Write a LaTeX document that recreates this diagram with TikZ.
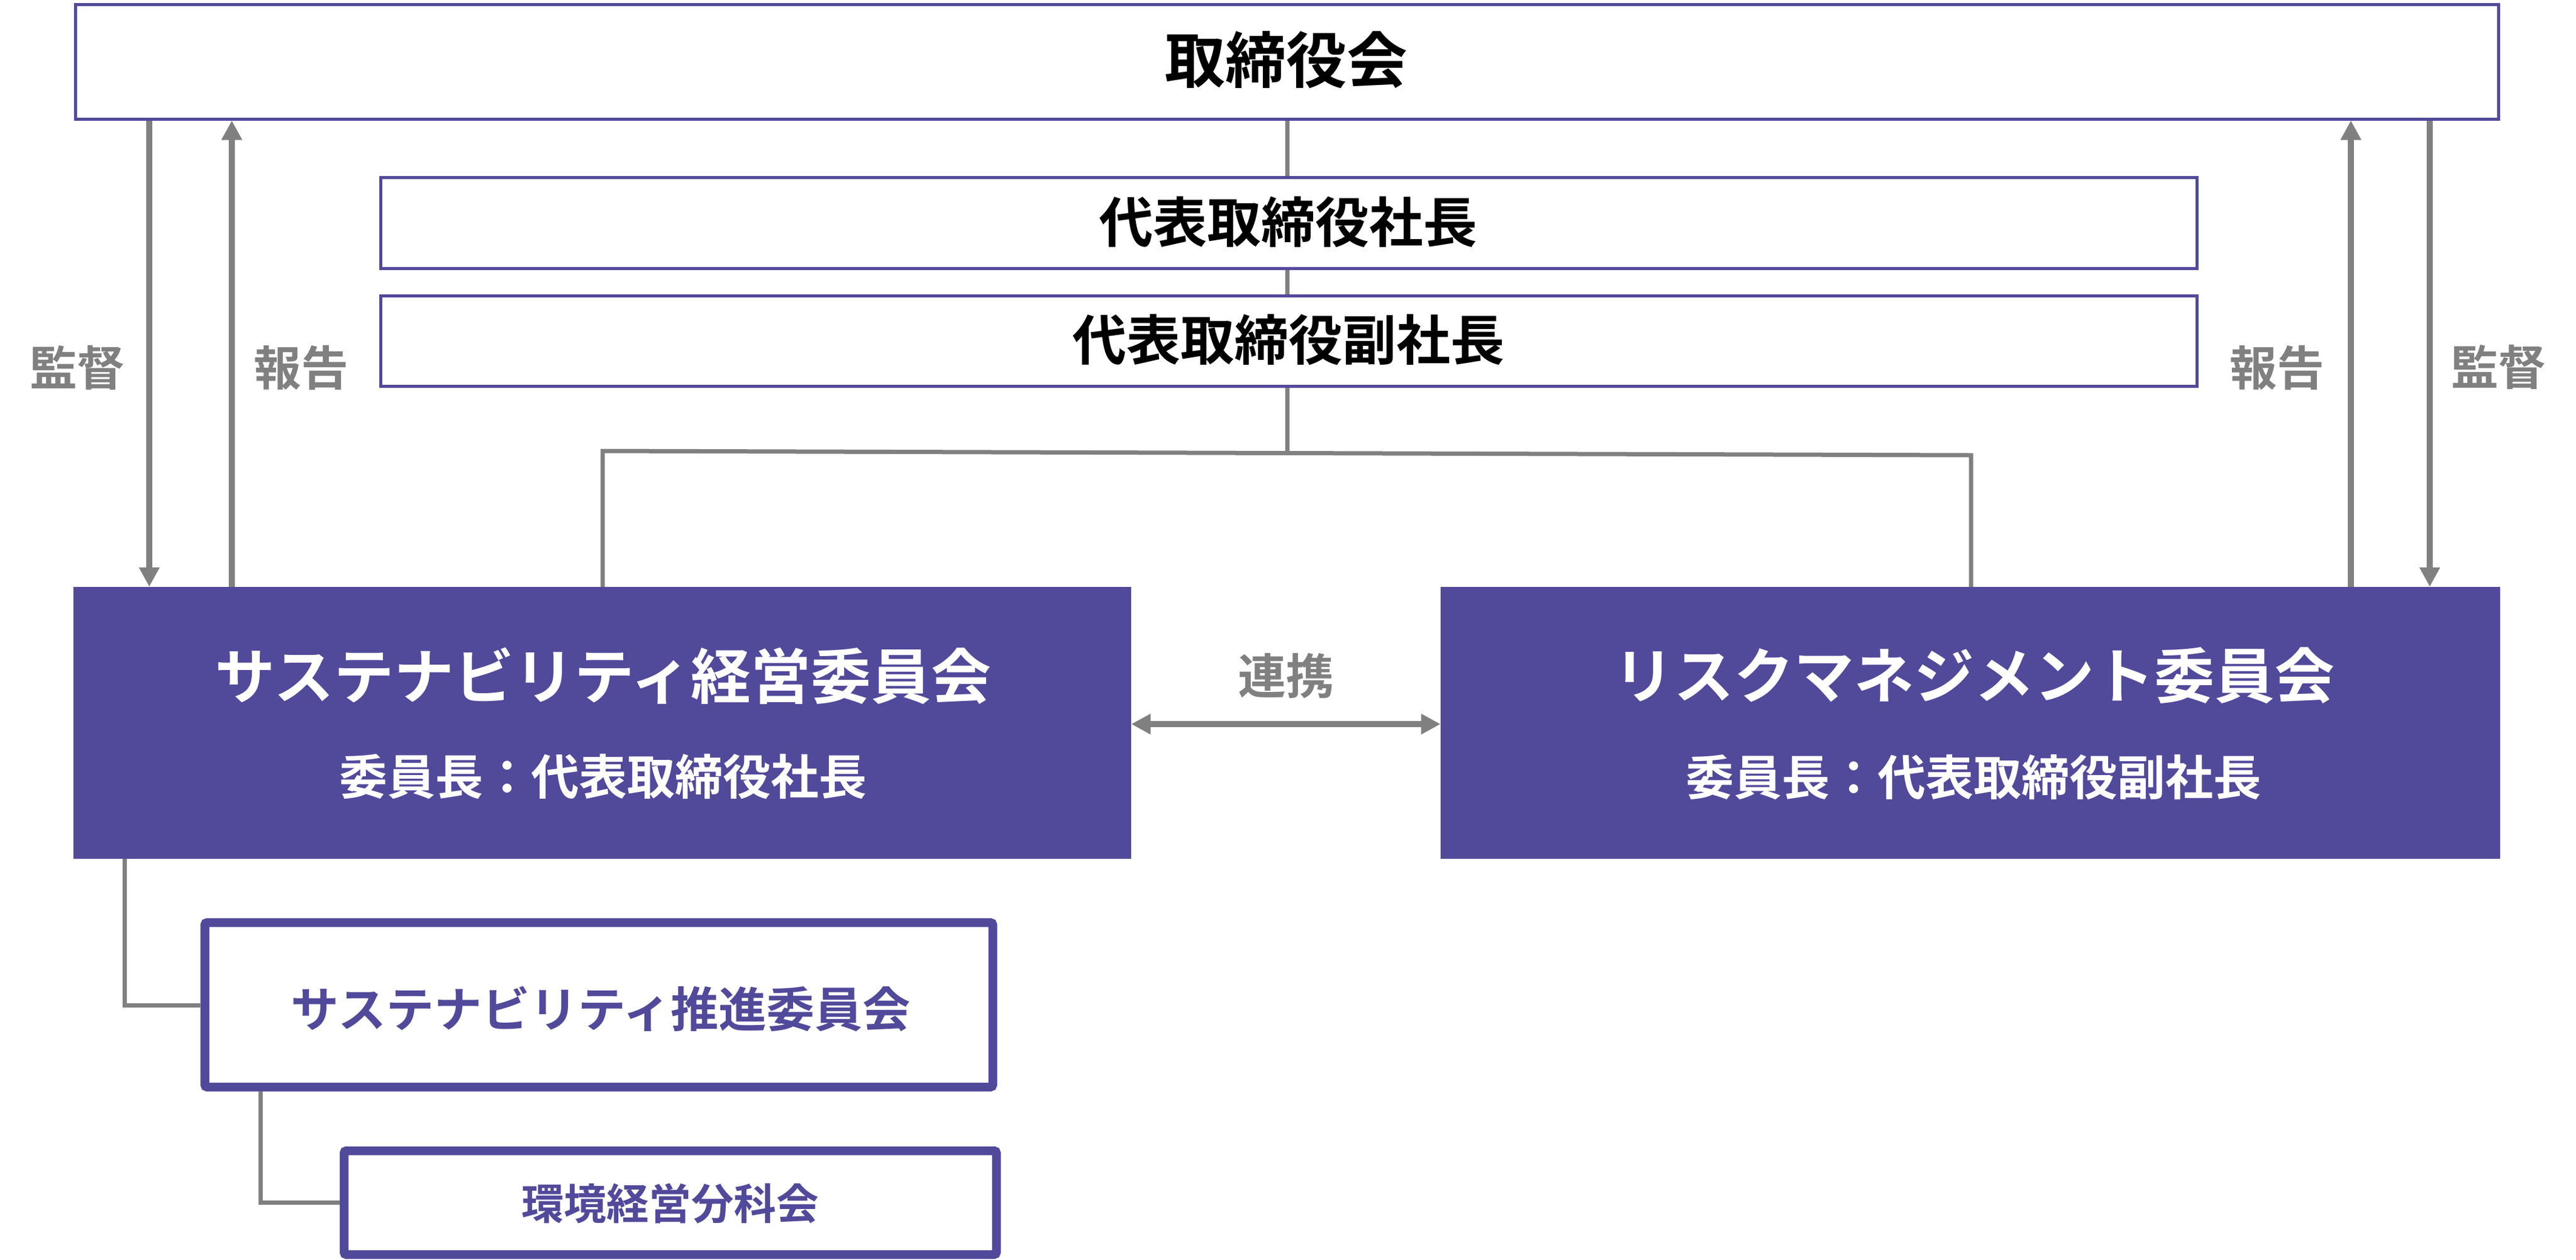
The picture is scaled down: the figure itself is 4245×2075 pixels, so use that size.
\documentclass[tikz,border=0pt]{standalone}
\usepackage{fontspec}
\newfontfamily\jpb{Noto Sans CJK JP Bold}
\usetikzlibrary{arrows.meta}
\definecolor{pur}{RGB}{81,73,154}
\definecolor{gry}{RGB}{128,128,128}
\begin{document}
\begin{tikzpicture}[x=1pt,y=-1pt,
  thinbox/.style={draw=pur,line width=5pt,fill=white,inner sep=0pt},
  fillbox/.style={fill=pur,draw=none,inner sep=0pt},
  thickbox/.style={draw=pur,line width=14.5pt,rounded corners=4pt,fill=white,inner sep=0pt},
  conn/.style={draw=gry,line width=7pt},
  arr/.style={draw=gry,line width=10pt,-{Triangle[length=32pt,width=32pt]}},
  arr2/.style={draw=gry,line width=10pt,{Triangle[length=32pt,width=32pt]}-{Triangle[length=32pt,width=32pt]}},
  txt/.style={inner sep=0pt,font=\jpb\fontsize{#1}{#1}\selectfont},
]
\useasboundingbox (0,0) rectangle (4245,2075);
\fill[white] (0,0) rectangle (4245,2075);

% boxes
\node[thinbox,minimum width=3993pt,minimum height=189pt] (board) at (2120.5,101.5) {};
\node[thinbox,minimum width=2993pt,minimum height=150pt] (pres) at (2124,367.5) {};
\node[thinbox,minimum width=2993pt,minimum height=149pt] (vp) at (2124,561.5) {};
\node[fillbox,minimum width=1743pt,minimum height=448pt] (sus) at (992.5,1191) {};
\node[fillbox,minimum width=1746pt,minimum height=448pt] (risk) at (3247,1191) {};
\node[thickbox,minimum width=1298.5pt,minimum height=271pt] (prom) at (986.75,1655.5) {};
\node[thickbox,minimum width=1075pt,minimum height=171pt] (env) at (1104.5,1981.5) {};

% texts
\node[txt=100] (boardT) at (2119,99) {取締役会};
\node[txt=89] (presT) at (2123,366) {代表取締役社長};
\node[txt=89] (vpT) at (2123,560) {代表取締役副社長};
\node[txt=99,text=white] (susT) at (994,1114) {サステナビリティ経営委員会};
\node[txt=79,text=white] (susS) at (994,1280) {委員長：代表取締役社長};
\node[txt=99,text=white] (riskT) at (3253,1113) {リスクマネジメント委員会};
\node[txt=79,text=white] (riskS) at (3252,1281) {委員長：代表取締役副社長};
\node[txt=79,text=pur] (promT) at (990,1662) {サステナビリティ推進委員会};
\node[txt=70,text=pur] (envT) at (1104,1983) {環境経営分科会};
\node[txt=78,text=gry] (lblL1) at (127,606) {監督};
\node[txt=78,text=gry] (lblL2) at (496,606) {報告};
\node[txt=78,text=gry] (lblR1) at (3752,606) {報告};
\node[txt=78,text=gry] (lblR2) at (4117,605) {監督};
\node[txt=79,text=gry] (lblC) at (2119,1114) {連携};

% connectors
\draw[conn] (board.south -| 2121,0) -- (pres.north -| 2121,0);
\draw[conn] (pres.south -| 2121,0) -- (vp.north -| 2121,0);
\draw[conn] (vp.south -| 2121,0) -- (2121,746.5);
\draw[conn] (sus.north -| 993,0) -- (993,743) -- (3248,750) -- (risk.north -| 3248,0);
\draw[conn] (sus.south -| 205,0) -- (205,1656) -- (prom.west |- 0,1656);
\draw[conn] (prom.south -| 429,0) -- (429,1981) -- (env.west |- 0,1981);

% arrows
\draw[arr] (board.south -| 246,0) -- (sus.north -| 246,0);
\draw[arr] (sus.north -| 382,0) -- (board.south -| 382,0);
\draw[arr] (risk.north -| 3874,0) -- (board.south -| 3874,0);
\draw[arr] (board.south -| 4004,0) -- (risk.north -| 4004,0);
\draw[arr2] (sus.east |- 0,1193) -- (risk.west |- 0,1193);
\end{tikzpicture}
\end{document}
